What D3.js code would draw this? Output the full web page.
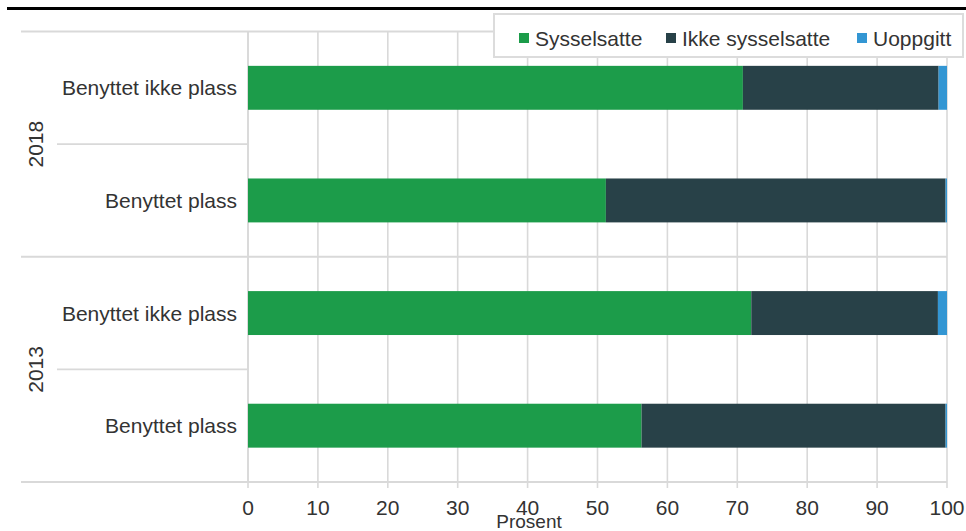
<!DOCTYPE html>
<html><head><meta charset="utf-8">
<script src="https://cdn.jsdelivr.net/npm/d3@7"></script>
<style>body{margin:0;background:#fff}svg{display:block}text{font-family:"Liberation Sans",Arial,sans-serif;fill:#333}</style>
</head><body><svg id="c" width="966" height="531"></svg>
<script>
const years = ["2018","2013"];
const categories = ["Benyttet ikke plass","Benyttet plass"];
const seriesNames = ["Sysselsatte","Ikke sysselsatte","Uoppgitt"];
const colors = ["#1c9c4a","#284148","#3396d3"];
// rows in top-to-bottom order
const sysselsatte     = [70.8, 51.2, 72.0, 56.3];
const ikkeSysselsatte = [28.0, 48.6, 26.7, 43.5];
const uoppgitt        = [1.2, 0.2, 1.3, 0.2];
const xTicks = [0,10,20,30,40,50,60,70,80,90,100];
const xTitle = "Prosent";

const rows = [];
years.forEach(y => categories.forEach(c => rows.push({year:y, cat:c})));
rows.forEach((r,i)=>{ r.vals=[sysselsatte[i], ikkeSysselsatte[i], uoppgitt[i]]; r.key=r.year+"|"+r.cat; });

const svg = d3.select("#c");
const L=248, R=947, T=31.5, B=482;
const x = d3.scaleLinear().domain([0,100]).range([L,R]);
const y = d3.scaleBand().domain(rows.map(r=>r.key)).range([T,B]).paddingInner(0.61).paddingOuter(0.305);
const step = y.step();

// top rule
svg.append("rect").attr("x",7).attr("y",7).attr("width",959).attr("height",3).attr("fill","#000");

const g = svg.append("g");
g.selectAll("line.vg").data(xTicks).join("line")
  .attr("x1",d=>x(d)).attr("x2",d=>x(d)).attr("y1",T).attr("y2",B+6)
  .attr("stroke","#d9d9d9").attr("stroke-width",1.6);
const yearBounds = years.map((yr,i)=>T+i*2*step);
yearBounds.push(B);
g.selectAll("line.yb").data(yearBounds).join("line")
  .attr("x1",21).attr("x2",R).attr("y1",d=>d).attr("y2",d=>d)
  .attr("stroke","#d9d9d9").attr("stroke-width",1.8);
g.selectAll("line.cb").data(years).join("line")
  .attr("x1",57).attr("x2",L).attr("y1",(d,i)=>T+i*2*step+step).attr("y2",(d,i)=>T+i*2*step+step)
  .attr("stroke","#d9d9d9").attr("stroke-width",1.8);
g.append("line").attr("x1",L).attr("x2",L).attr("y1",T).attr("y2",B).attr("stroke","#d9d9d9").attr("stroke-width",1.6);

const stackData = rows.map(r=>{const o={key:r.key}; seriesNames.forEach((s,j)=>o[s]=r.vals[j]); return o;});
const stacked = d3.stack().keys(seriesNames)(stackData);
svg.append("g").selectAll("g").data(stacked).join("g").attr("fill",(d,i)=>colors[i])
  .selectAll("rect").data(d=>d).join("rect")
  .attr("x",d=>x(d[0])).attr("width",d=>Math.max(0,x(d[1])-x(d[0])))
  .attr("y",d=>y(d.data.key)).attr("height",y.bandwidth());

svg.append("g").selectAll("text").data(rows).join("text")
  .attr("x",237).attr("y",d=>y(d.key)+y.bandwidth()/2).attr("text-anchor","end")
  .attr("dominant-baseline","central").attr("font-size",21).text(d=>d.cat);
svg.append("g").selectAll("text").data(years).join("text")
  .attr("transform",(d,i)=>`translate(35,${T+i*2*step+step}) rotate(-90)`)
  .attr("text-anchor","middle").attr("dominant-baseline","central").attr("font-size",21).text(d=>d);

svg.append("g").selectAll("text").data(xTicks).join("text")
  .attr("x",d=>x(d)).attr("y",507).attr("text-anchor","middle").attr("dominant-baseline","central")
  .attr("font-size",21).text(d=>d);
svg.append("text").attr("x",529).attr("y",521).attr("text-anchor","middle").attr("dominant-baseline","central")
  .attr("font-size",19).text(xTitle);

const lg = svg.append("g");
lg.append("rect").attr("x",494).attr("y",14).attr("width",469).attr("height",43)
  .attr("fill","#fff").attr("stroke","#dcdcdc").attr("stroke-width",2);
const legX = [519, 666, 857];
const items = lg.selectAll("g").data(seriesNames).join("g").attr("transform",(d,i)=>`translate(${legX[i]},0)`);
items.append("rect").attr("x",0).attr("y",33).attr("width",10).attr("height",10).attr("fill",(d,i)=>colors[i]);
items.append("text").attr("x",16).attr("y",38).attr("dominant-baseline","central").attr("font-size",21).text(d=>d);
</script></body></html>
